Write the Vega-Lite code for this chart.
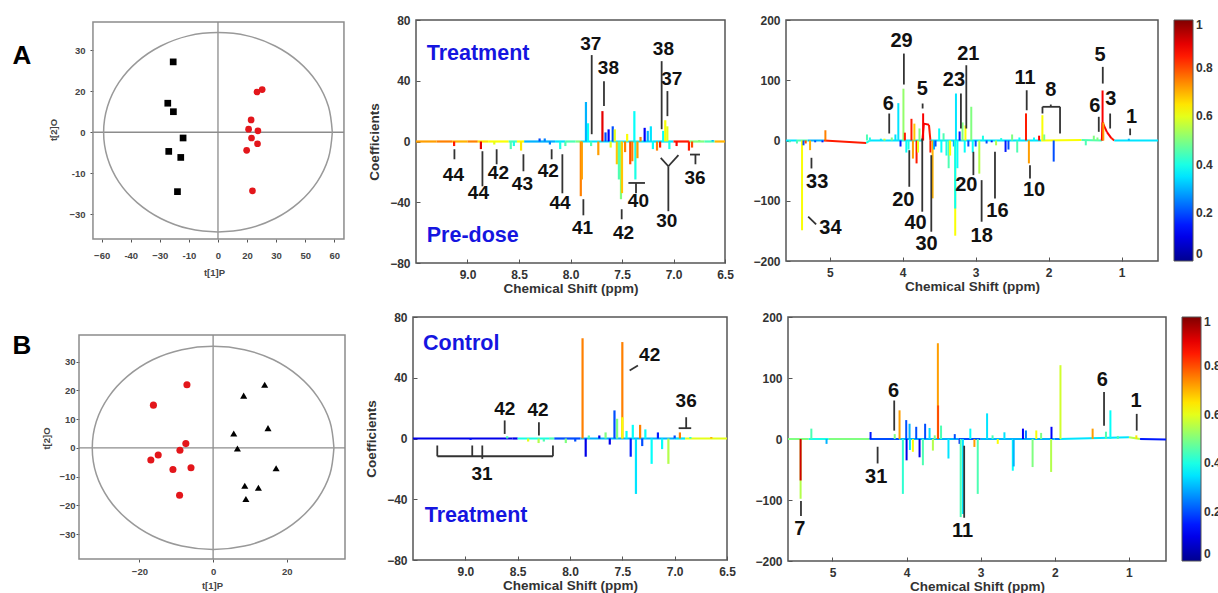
{
"$schema": "https://vega.github.io/schema/vega-lite/v6.json",
"padding": {"left": 12, "top": 13, "right": 2, "bottom": 2},
"background": "white",
"config": {
  "font": "Liberation Sans",
  "axis": {"labelFont": "Liberation Sans", "titleFont": "Liberation Sans", "labelFontWeight": "bold", "titleFontWeight": "bold", "labelColor": "#333", "titleColor": "#333", "grid": false, "tickColor": "#555", "labelFlush": false, "labelOverlap": false},
  "legend": {"labelFont": "Liberation Sans"},
  "text": {"font": "Liberation Sans"}
},
"datasets": {
  "scA": [{"x":-23.1,"y":25.7,"g":"pre"},{"x":-25.9,"y":10.6,"g":"pre"},{"x":-23,"y":7.5,"g":"pre"},{"x":-18,"y":-2.1,"g":"pre"},{"x":-25.4,"y":-7,"g":"pre"},{"x":-19.2,"y":-9.2,"g":"pre"},{"x":-20.9,"y":-21.7,"g":"pre"},
          {"x":20.1,"y":14.7,"g":"trt"},{"x":22.8,"y":15.6,"g":"trt"},{"x":17.1,"y":4.5,"g":"trt"},{"x":15.8,"y":1.1,"g":"trt"},{"x":20.6,"y":0.5,"g":"trt"},{"x":17.3,"y":-2.1,"g":"trt"},{"x":20.4,"y":-4.2,"g":"trt"},{"x":14.8,"y":-6.6,"g":"trt"},{"x":17.8,"y":-21.4,"g":"trt"}],
  "scB": [{"x":-7.1,"y":22,"g":"ctl"},{"x":-16.2,"y":14.9,"g":"ctl"},{"x":-7.4,"y":1.5,"g":"ctl"},{"x":-9,"y":-0.8,"g":"ctl"},{"x":-14.9,"y":-2.5,"g":"ctl"},{"x":-16.9,"y":-4.2,"g":"ctl"},{"x":-6,"y":-6.9,"g":"ctl"},{"x":-10.9,"y":-7.5,"g":"ctl"},{"x":-9.1,"y":-16.5,"g":"ctl"},
          {"x":14,"y":22,"g":"trt"},{"x":8.3,"y":18.2,"g":"trt"},{"x":14.9,"y":6.9,"g":"trt"},{"x":5.6,"y":5,"g":"trt"},{"x":6.6,"y":-0.2,"g":"trt"},{"x":17.1,"y":-7.1,"g":"trt"},{"x":8.6,"y":-13.2,"g":"trt"},{"x":12.3,"y":-13.9,"g":"trt"},{"x":8.9,"y":-17.8,"g":"trt"}],
  "elA": [{"i":0,"x":59,"y":0},{"i":1,"x":57.0,"y":9.4},{"i":2,"x":51.1,"y":18.2},{"i":3,"x":41.7,"y":25.7},{"i":4,"x":29.5,"y":31.5},{"i":5,"x":15.3,"y":35.2},{"i":6,"x":0,"y":36.4},{"i":7,"x":-15.3,"y":35.2},{"i":8,"x":-29.5,"y":31.5},{"i":9,"x":-41.7,"y":25.7},{"i":10,"x":-51.1,"y":18.2},{"i":11,"x":-57.0,"y":9.4},{"i":12,"x":-59,"y":0},{"i":13,"x":-57.0,"y":-9.4},{"i":14,"x":-51.1,"y":-18.2},{"i":15,"x":-41.7,"y":-25.7},{"i":16,"x":-29.5,"y":-31.5},{"i":17,"x":-15.3,"y":-35.2},{"i":18,"x":0,"y":-36.4},{"i":19,"x":15.3,"y":-35.2},{"i":20,"x":29.5,"y":-31.5},{"i":21,"x":41.7,"y":-25.7},{"i":22,"x":51.1,"y":-18.2},{"i":23,"x":57.0,"y":-9.4},{"i":24,"x":59,"y":0}],
  "elB": [{"i":0,"x":32.8,"y":0},{"i":1,"x":31.7,"y":9.2},{"i":2,"x":28.4,"y":17.7},{"i":3,"x":23.2,"y":25.0},{"i":4,"x":16.4,"y":30.7},{"i":5,"x":8.5,"y":34.2},{"i":6,"x":0,"y":35.4},{"i":7,"x":-8.5,"y":34.2},{"i":8,"x":-16.4,"y":30.7},{"i":9,"x":-23.2,"y":25.0},{"i":10,"x":-28.4,"y":17.7},{"i":11,"x":-31.7,"y":9.2},{"i":12,"x":-32.8,"y":0},{"i":13,"x":-31.7,"y":-9.2},{"i":14,"x":-28.4,"y":-17.7},{"i":15,"x":-23.2,"y":-25.0},{"i":16,"x":-16.4,"y":-30.7},{"i":17,"x":-8.5,"y":-34.2},{"i":18,"x":0,"y":-35.4},{"i":19,"x":8.5,"y":-34.2},{"i":20,"x":16.4,"y":-30.7},{"i":21,"x":23.2,"y":-25.0},{"i":22,"x":28.4,"y":-17.7},{"i":23,"x":31.7,"y":-9.2},{"i":24,"x":32.8,"y":0}],
  "amBase": [{"p":9.5,"v":0,"c":0.72},{"p":9.3,"v":0,"c":0.75},{"p":9.15,"v":0,"c":0.7},{"p":9.0,"v":0,"c":0.75},{"p":8.9,"v":0,"c":0.65},{"p":8.8,"v":0,"c":0.62},{"p":8.6,"v":0,"c":0.45},{"p":8.52,"v":0,"c":0.62},{"p":8.45,"v":0,"c":0.3},{"p":8.15,"v":0,"c":0.35},{"p":8.05,"v":0,"c":0.45},{"p":7.95,"v":0,"c":0.5},{"p":7.9,"v":0,"c":0.35},{"p":7.2,"v":0,"c":0.35},{"p":7.0,"v":0,"c":0.85},{"p":6.85,"v":0,"c":0.5},{"p":6.7,"v":0,"c":0.45},{"p":6.6,"v":0,"c":0.7},{"p":6.5,"v":0,"c":0.5}],
  "amPeaks": [{"p":9.13,"v":-3,"c":0.85},{"p":8.87,"v":-5,"c":0.9},{"p":8.74,"v":-2,"c":0.6},{"p":8.58,"v":-5,"c":0.45},{"p":8.55,"v":-3,"c":0.4},{"p":8.48,"v":-6,"c":0.65},{"p":8.3,"v":2,"c":0.2},{"p":8.25,"v":2,"c":0.25},{"p":8.2,"v":-2,"c":0.25},{"p":8.1,"v":-5,"c":0.4},{"p":8.05,"v":-3,"c":0.45},{"p":7.9,"v":-36,"c":0.75},{"p":7.89,"v":-25,"c":0.72},{"p":7.85,"v":26,"c":0.3},{"p":7.83,"v":12,"c":0.38},{"p":7.8,"v":-3,"c":0.45},{"p":7.73,"v":-9,"c":0.72},{"p":7.69,"v":20,"c":0.9},{"p":7.66,"v":6,"c":0.2},{"p":7.63,"v":8,"c":0.12},{"p":7.61,"v":-4,"c":0.6},{"p":7.59,"v":10,"c":0.2},{"p":7.57,"v":8,"c":0.6},{"p":7.55,"v":-15,"c":0.68},{"p":7.53,"v":-25,"c":0.45},{"p":7.51,"v":-38,"c":0.5},{"p":7.5,"v":-34,"c":0.68},{"p":7.47,"v":-7,"c":0.75},{"p":7.45,"v":5,"c":0.62},{"p":7.42,"v":-15,"c":0.8},{"p":7.4,"v":-13,"c":0.75},{"p":7.38,"v":20,"c":0.38},{"p":7.37,"v":-25,"c":0.4},{"p":7.35,"v":-11,"c":0.72},{"p":7.32,"v":3,"c":0.75},{"p":7.28,"v":9,"c":0.12},{"p":7.25,"v":7,"c":0.3},{"p":7.22,"v":10,"c":0.35},{"p":7.2,"v":-5,"c":0.38},{"p":7.16,"v":-6,"c":0.75},{"p":7.13,"v":-4,"c":0.85},{"p":7.1,"v":7,"c":0.38},{"p":7.08,"v":14,"c":0.62},{"p":7.06,"v":10,"c":0.6},{"p":7.04,"v":-5,"c":0.4},{"p":6.97,"v":-3,"c":0.88},{"p":6.85,"v":-6,"c":0.85},{"p":6.82,"v":-4,"c":0.8},{"p":6.75,"v":1,"c":0.5},{"p":6.62,"v":1,"c":0.3}],
  "amL": [{"p":9.127,"v":-5.1,"p2":9.127,"v2":-11.7},{"p":8.855,"v":-6.4,"p2":8.855,"v2":-29.5},{"p":8.717,"v":-5.1,"p2":8.717,"v2":-15},{"p":8.457,"v":-8.4,"p2":8.457,"v2":-19.6},{"p":8.183,"v":-5.1,"p2":8.183,"v2":-11.7},{"p":8.079,"v":-8.4,"p2":8.079,"v2":-34.1},{"p":7.875,"v":-38,"p2":7.875,"v2":-48.6},{"p":7.794,"v":56.9,"p2":7.794,"v2":4.8},{"p":7.675,"v":39.7,"p2":7.675,"v2":23.3},{"p":7.503,"v":-44.6,"p2":7.503,"v2":-51.2},{"p":7.438,"v":-27.3,"p2":7.277,"v2":-27.3},{"p":7.364,"v":-27.3,"p2":7.364,"v2":-34.1},{"p":7.115,"v":52.9,"p2":7.115,"v2":8.1},{"p":7.059,"v":33.2,"p2":7.059,"v2":16.7},{"p":7.124,"v":-10.8,"p2":7.05,"v2":-16.3},{"p":6.952,"v":-9,"p2":7.05,"v2":-16.3},{"p":7.05,"v":-16.3,"p2":7.05,"v2":-45.9},{"p":6.84,"v":-8.6,"p2":6.743,"v2":-8.6},{"p":6.787,"v":-8.6,"p2":6.787,"v2":-15}],
  "amT": [{"p":9.137,"v":-21.8,"t":"44"},{"p":8.894,"v":-33.9,"t":"44"},{"p":8.7,"v":-20.7,"t":"42"},{"p":8.467,"v":-28.3,"t":"43"},{"p":8.215,"v":-19.6,"t":"42"},{"p":8.102,"v":-40.5,"t":"44"},{"p":7.884,"v":-57,"t":"41"},{"p":7.804,"v":63.9,"t":"37"},{"p":7.632,"v":48.5,"t":"38"},{"p":7.486,"v":-60.3,"t":"42"},{"p":7.341,"v":-39.4,"t":"40"},{"p":7.098,"v":60.6,"t":"38"},{"p":7.017,"v":40.9,"t":"37"},{"p":7.066,"v":-52.5,"t":"30"},{"p":6.791,"v":-24,"t":"36"}],
  "amB": [{"p":9.396,"v":57.3,"t":"Treatment"},{"p":9.396,"v":-62.4,"t":"Pre-dose"}],
  "arBase": [{"p":5.6,"v":0,"c":0.35},{"p":5.45,"v":0,"c":0.45},{"p":5.3,"v":0,"c":0.3},{"p":5.08,"v":0,"c":0.85},{"p":4.5,"v":-4,"c":0.4},{"p":4.45,"v":0,"c":0.35},{"p":3.73,"v":0,"c":0.88},{"p":3.71,"v":28,"c":0.88},{"p":3.64,"v":26,"c":0.85},{"p":3.62,"v":0,"c":0.35},{"p":2.1,"v":0,"c":0.62},{"p":1.55,"v":1,"c":0.45},{"p":1.27,"v":0,"c":0.88},{"p":1.26,"v":30,"c":0.88},{"p":1.2,"v":14,"c":0.88},{"p":1.14,"v":4,"c":0.85},{"p":1.1,"v":0,"c":0.35},{"p":0.5,"v":0,"c":0.3}],
  "arPeaks": [{"p":5.55,"v":-3,"c":0.45},{"p":5.45,"v":-5,"c":0.45},{"p":5.38,"v":-149,"c":0.62},{"p":5.36,"v":-8,"c":0.2},{"p":5.33,"v":-5,"c":0.8},{"p":5.27,"v":-16,"c":0.7},{"p":5.2,"v":-3,"c":0.2},{"p":5.1,"v":-3,"c":0.15},{"p":5.06,"v":17,"c":0.75},{"p":4.49,"v":10,"c":0.45},{"p":4.45,"v":5,"c":0.4},{"p":4.3,"v":3,"c":0.35},{"p":4.25,"v":3,"c":0.6},{"p":4.15,"v":5,"c":0.5},{"p":4.1,"v":10,"c":0.35},{"p":4.06,"v":62,"c":0.35},{"p":4.03,"v":-10,"c":0.15},{"p":3.99,"v":86,"c":0.52},{"p":3.97,"v":13,"c":0.85},{"p":3.95,"v":-20,"c":0.38},{"p":3.92,"v":-15,"c":0.4},{"p":3.88,"v":36,"c":0.85},{"p":3.86,"v":-30,"c":0.72},{"p":3.84,"v":28,"c":0.68},{"p":3.81,"v":-38,"c":0.85},{"p":3.79,"v":-20,"c":0.6},{"p":3.77,"v":20,"c":0.5},{"p":3.72,"v":45,"c":0.88},{"p":3.62,"v":-20,"c":0.85},{"p":3.59,"v":-96,"c":0.7},{"p":3.57,"v":-15,"c":0.3},{"p":3.55,"v":-10,"c":0.2},{"p":3.5,"v":20,"c":0.38},{"p":3.47,"v":-20,"c":0.38},{"p":3.44,"v":12,"c":0.45},{"p":3.4,"v":-25,"c":0.4},{"p":3.37,"v":-46,"c":0.45},{"p":3.35,"v":-25,"c":0.62},{"p":3.3,"v":-10,"c":0.3},{"p":3.28,"v":-158,"c":0.62},{"p":3.28,"v":-113,"c":0.38},{"p":3.27,"v":78,"c":0.35},{"p":3.25,"v":-46,"c":0.38},{"p":3.22,"v":15,"c":0.15},{"p":3.18,"v":30,"c":0.5},{"p":3.15,"v":-20,"c":0.38},{"p":3.14,"v":25,"c":0.62},{"p":3.1,"v":-10,"c":0.2},{"p":3.06,"v":56,"c":0.5},{"p":3.04,"v":-20,"c":0.38},{"p":3.0,"v":-10,"c":0.2},{"p":2.95,"v":-55,"c":0.55},{"p":2.9,"v":8,"c":0.4},{"p":2.85,"v":-5,"c":0.2},{"p":2.78,"v":-3,"c":0.15},{"p":2.72,"v":-8,"c":0.55},{"p":2.65,"v":4,"c":0.4},{"p":2.59,"v":-19,"c":0.15},{"p":2.55,"v":-15,"c":0.2},{"p":2.5,"v":10,"c":0.5},{"p":2.43,"v":-20,"c":0.45},{"p":2.4,"v":5,"c":0.38},{"p":2.31,"v":45,"c":0.85},{"p":2.27,"v":-38,"c":0.72},{"p":2.2,"v":5,"c":0.38},{"p":2.13,"v":8,"c":0.88},{"p":2.085,"v":42,"c":0.62},{"p":2.06,"v":10,"c":0.5},{"p":1.93,"v":-35,"c":0.2},{"p":1.49,"v":-8,"c":0.45},{"p":1.38,"v":8,"c":0.5},{"p":1.33,"v":5,"c":0.5},{"p":1.26,"v":83,"c":0.88},{"p":1.25,"v":30,"c":0.72},{"p":0.9,"v":3,"c":0.3}],
  "arL": [{"p":5.251,"v":-28.7,"p2":5.251,"v2":-46.4},{"p":5.296,"v":-126.5,"p2":5.187,"v2":-139.3},{"p":4.185,"v":44.8,"p2":4.185,"v2":11.6},{"p":3.984,"v":144.3,"p2":3.984,"v2":92.9},{"p":3.727,"v":61.4,"p2":3.727,"v2":53.1},{"p":3.91,"v":-16.1,"p2":3.91,"v2":-76.8},{"p":3.732,"v":3.3,"p2":3.732,"v2":-118.2},{"p":3.608,"v":-24.4,"p2":3.608,"v2":-151.4},{"p":3.202,"v":77.9,"p2":3.202,"v2":19.9},{"p":3.128,"v":124.9,"p2":3.128,"v2":19.9},{"p":3.031,"v":-18.7,"p2":3.031,"v2":-57.5},{"p":2.918,"v":-65.8,"p2":2.918,"v2":-134.8},{"p":2.735,"v":-18.7,"p2":2.735,"v2":-96.2},{"p":2.3,"v":83.4,"p2":2.3,"v2":50.2},{"p":2.255,"v":-41,"p2":2.255,"v2":-63},{"p":2.084,"v":55.9,"p2":1.843,"v2":55.9},{"p":2.084,"v":55.9,"p2":2.084,"v2":44.8},{"p":1.843,"v":55.9,"p2":1.843,"v2":11.6},{"p":1.97,"v":59.7,"p2":1.97,"v2":55.9},{"p":1.312,"v":39.3,"p2":1.312,"v2":14.4},{"p":1.257,"v":122.2,"p2":1.257,"v2":94.5},{"p":1.156,"v":44.8,"p2":1.156,"v2":19.9},{"p":0.882,"v":19.9,"p2":0.882,"v2":8.8}],
  "arT": [{"p":5.173,"v":-68.5,"t":"33"},{"p":4.99,"v":-144.8,"t":"34"},{"p":4.198,"v":61.4,"t":"6"},{"p":4.016,"v":164.7,"t":"29"},{"p":3.732,"v":85.1,"t":"5"},{"p":3.992,"v":-99,"t":"20"},{"p":3.824,"v":-137.6,"t":"40"},{"p":3.673,"v":-172,"t":"30"},{"p":3.298,"v":100,"t":"23"},{"p":3.1,"v":144.3,"t":"21"},{"p":3.128,"v":-74.1,"t":"20"},{"p":2.918,"v":-158,"t":"18"},{"p":2.702,"v":-116.6,"t":"16"},{"p":2.323,"v":104.5,"t":"11"},{"p":2.2,"v":-82.4,"t":"10"},{"p":1.97,"v":83.4,"t":"8"},{"p":1.366,"v":57.5,"t":"6"},{"p":1.294,"v":141.5,"t":"5"},{"p":1.147,"v":68.5,"t":"3"},{"p":0.863,"v":39.3,"t":"1"}],
  "bmBase": [{"p":9.5,"v":0,"c":0.1},{"p":8.55,"v":0,"c":0.1},{"p":8.5,"v":0,"c":0.4},{"p":8.2,"v":0,"c":0.45},{"p":8.15,"v":0,"c":0.2},{"p":7.9,"v":0,"c":0.3},{"p":7.0,"v":0,"c":0.35},{"p":6.9,"v":0,"c":0.6},{"p":6.5,"v":0,"c":0.45}],
  "bmPeaks": [{"p":8.95,"v":-1,"c":0.15},{"p":8.6,"v":1.5,"c":0.45},{"p":8.4,"v":-2,"c":0.6},{"p":8.3,"v":-3,"c":0.55},{"p":8.25,"v":-2,"c":0.45},{"p":8.04,"v":-3,"c":0.5},{"p":7.95,"v":-2,"c":0.2},{"p":7.88,"v":66,"c":0.75},{"p":7.85,"v":-12,"c":0.1},{"p":7.82,"v":2,"c":0.45},{"p":7.72,"v":2,"c":0.1},{"p":7.66,"v":4,"c":0.5},{"p":7.62,"v":-4,"c":0.1},{"p":7.575,"v":18.5,"c":0.2},{"p":7.55,"v":13,"c":0.5},{"p":7.5,"v":63.5,"c":0.75},{"p":7.5,"v":14,"c":0.62},{"p":7.46,"v":5,"c":0.38},{"p":7.42,"v":-12,"c":0.15},{"p":7.4,"v":9,"c":0.38},{"p":7.37,"v":-36.5,"c":0.35},{"p":7.33,"v":9,"c":0.75},{"p":7.31,"v":-5,"c":0.2},{"p":7.28,"v":6,"c":0.38},{"p":7.22,"v":-16.7,"c":0.38},{"p":7.16,"v":4,"c":0.15},{"p":7.12,"v":-7,"c":0.38},{"p":7.06,"v":-16.7,"c":0.55},{"p":7.0,"v":2,"c":0.2},{"p":6.95,"v":4,"c":0.75},{"p":6.85,"v":1,"c":0.4},{"p":6.65,"v":1,"c":0.7}],
  "bmL": [{"p":8.624,"v":11.9,"p2":8.624,"v2":3},{"p":8.297,"v":10.7,"p2":8.297,"v2":2},{"p":9.268,"v":-11.7,"p2":8.163,"v2":-11.7},{"p":9.268,"v":-11.7,"p2":9.268,"v2":-4.6},{"p":8.163,"v":-11.7,"p2":8.163,"v2":-4.6},{"p":8.934,"v":-4.6,"p2":8.934,"v2":-11.7},{"p":8.838,"v":-4.6,"p2":8.838,"v2":-13.4},{"p":7.43,"v":44.8,"p2":7.351,"v2":48.1},{"p":6.962,"v":6.8,"p2":6.842,"v2":6.8},{"p":6.89,"v":14,"p2":6.89,"v2":6.8}],
  "bmT": [{"p":8.624,"v":19.5,"t":"42"},{"p":8.306,"v":18.5,"t":"42"},{"p":8.841,"v":-23.3,"t":"31"},{"p":7.239,"v":54.7,"t":"42"},{"p":6.89,"v":25,"t":"36"}],
  "bmB": [{"p":9.404,"v":62.4,"t":"Control"},{"p":9.388,"v":-50.8,"t":"Treatment"}],
  "brBase": [{"p":5.6,"v":0,"c":0.5},{"p":5.32,"v":0,"c":0.4},{"p":5.05,"v":0,"c":0.5},{"p":4.5,"v":0,"c":0.2},{"p":4.1,"v":0,"c":0.3},{"p":3.3,"v":0,"c":0.2},{"p":3.0,"v":0,"c":0.3},{"p":2.0,"v":0,"c":0.25},{"p":1.93,"v":0,"c":0.35},{"p":1.0,"v":3,"c":0.55},{"p":0.85,"v":0,"c":0.15},{"p":0.5,"v":-1,"c":0.15}],
  "brPeaks": [{"p":5.43,"v":-98,"c":0.55},{"p":5.43,"v":-68,"c":0.92},{"p":5.285,"v":17,"c":0.45},{"p":5.08,"v":-8,"c":0.3},{"p":4.486,"v":11.5,"c":0.15},{"p":4.16,"v":8,"c":0.5},{"p":4.095,"v":47,"c":0.72},{"p":4.05,"v":-90,"c":0.42},{"p":4.005,"v":31,"c":0.2},{"p":4.0,"v":-35,"c":0.1},{"p":3.96,"v":25,"c":0.3},{"p":3.955,"v":-18,"c":0.35},{"p":3.915,"v":-21,"c":0.62},{"p":3.87,"v":20,"c":0.2},{"p":3.825,"v":-30,"c":0.1},{"p":3.78,"v":-43,"c":0.45},{"p":3.75,"v":25,"c":0.2},{"p":3.69,"v":18,"c":0.35},{"p":3.645,"v":-19,"c":0.55},{"p":3.62,"v":6,"c":0.5},{"p":3.578,"v":157,"c":0.72},{"p":3.575,"v":55,"c":0.8},{"p":3.535,"v":22,"c":0.45},{"p":3.435,"v":-32,"c":0.35},{"p":3.35,"v":8,"c":0.2},{"p":3.285,"v":-8,"c":0.15},{"p":3.27,"v":-128,"c":0.45},{"p":3.24,"v":-123,"c":0.35},{"p":3.14,"v":17,"c":0.38},{"p":3.085,"v":-13,"c":0.72},{"p":3.04,"v":-90,"c":0.45},{"p":2.914,"v":42,"c":0.35},{"p":2.84,"v":6,"c":0.45},{"p":2.77,"v":-8,"c":0.62},{"p":2.68,"v":11,"c":0.35},{"p":2.567,"v":-52,"c":0.38},{"p":2.555,"v":-45,"c":0.3},{"p":2.43,"v":17,"c":0.12},{"p":2.39,"v":14,"c":0.25},{"p":2.3,"v":-46,"c":0.5},{"p":2.25,"v":14,"c":0.62},{"p":2.185,"v":10,"c":0.5},{"p":2.05,"v":-54,"c":0.55},{"p":2.045,"v":20,"c":0.12},{"p":1.924,"v":121,"c":0.58},{"p":1.49,"v":17,"c":0.72},{"p":1.31,"v":12,"c":0.45},{"p":1.25,"v":47,"c":0.38},{"p":1.15,"v":5,"c":0.45},{"p":0.9,"v":6,"c":0.65}],
  "brL": [{"p":5.425,"v":-101.7,"p2":5.425,"v2":-126.4},{"p":4.391,"v":-12.7,"p2":4.391,"v2":-40.1},{"p":4.167,"v":63.1,"p2":4.167,"v2":13.7},{"p":3.223,"v":-11,"p2":3.223,"v2":-129.1},{"p":1.336,"v":77,"p2":1.336,"v2":21.9},{"p":0.895,"v":41.2,"p2":0.895,"v2":13.7}],
  "brT": [{"p":5.442,"v":-148.3,"t":"7"},{"p":4.41,"v":-63.1,"t":"31"},{"p":4.175,"v":78.6,"t":"6"},{"p":3.245,"v":-151.1,"t":"11"},{"p":1.358,"v":97.2,"t":"6"},{"p":0.905,"v":62.1,"t":"1"}]
},
"spacing": 14,
"resolve": {"scale": {"x": "independent", "y": "independent", "color": "independent", "shape": "independent"}, "legend": {"color": "independent", "shape": "independent"}},
"vconcat": [
{
 "spacing": 17,
 "resolve": {"scale": {"x": "independent", "y": "independent", "color": "independent", "shape": "independent"}, "legend": {"color": "independent", "shape": "independent"}},
 "hconcat": [
  {
   "width": 270, "height": 219,
   "view": {"stroke": null},
   "encoding": {
     "x": {"field": "x", "type": "quantitative", "scale": {"domain": [-71.7, 67.6], "nice": false, "zero": false},
           "axis": {"values": [-60,-45,-30,-15,0,15,30,45,60], "labelExpr": "datum.value == -45 ? '-40' : datum.value == -15 ? '-10' : datum.value == 15 ? '20' : datum.value == 45 ? '50' : datum.label", "title": "t[1]P", "domain": false, "tickSize": 3, "labelPadding": 8, "labelFontSize": 9.5, "titleFontSize": 9.5, "titlePadding": 8, "labelColor": "#444", "titleColor": "#444"}},
     "y": {"field": "y", "type": "quantitative", "scale": {"domain": [-39, 41.0], "nice": false, "zero": false},
           "axis": {"values": [30,15,0,-15,-30], "labelExpr": "datum.value == 15 ? '20' : datum.value == -15 ? '-10' : datum.label", "title": "t[2]O", "offset": -14, "domain": false, "tickSize": 3, "labelPadding": 5, "labelFontSize": 9.5, "titleFontSize": 9.5, "titlePadding": 10, "labelColor": "#444", "titleColor": "#444"}}
   },
   "layer": [
     {"data": {"values": [{"x": -64.5, "x2": 65, "y": -39, "y2": 40.3}]}, "mark": {"type": "rect", "filled": false, "stroke": "#8c8c8c", "strokeWidth": 1.5}, "encoding": {"x2": {"field": "x2"}, "y2": {"field": "y2"}}},
     {"data": {"values": [{"x": 0, "x2": 0, "y": -39, "y2": 40.3}, {"x": -64.5, "x2": 65, "y": 0, "y2": 0}]}, "mark": {"type": "rule", "color": "#8c8c8c", "strokeWidth": 1.3}, "encoding": {"x2": {"field": "x2"}, "y2": {"field": "y2"}}},
     {"data": {"name": "elA"}, "mark": {"type": "line", "color": "#999999", "strokeWidth": 1.5, "interpolate": "cardinal"}, "encoding": {"order": {"field": "i", "type": "quantitative"}}},
     {"data": {"name": "scA"}, "mark": {"type": "point", "filled": true, "size": 45, "opacity": 1},
      "encoding": {"shape": {"field": "g", "type": "nominal", "scale": {"domain": ["pre", "trt"], "range": ["square", "circle"]}, "legend": null},
                   "color": {"field": "g", "type": "nominal", "scale": {"domain": ["pre", "trt"], "range": ["#000000", "#e3161b"]}, "legend": null}}},
     {"data": {"values": [{"x": -71.7, "y": 27.8, "t": "A"}]}, "mark": {"type": "text", "dx": -57, "fontSize": 26, "fontWeight": "bold", "color": "#000000", "baseline": "middle", "align": "center"}, "encoding": {"text": {"field": "t"}}}
   ]
  },
  {
   "width": 309, "height": 243,
   "view": {"stroke": "#555", "strokeWidth": 1.5},
   "encoding": {
     "x": {"field": "p", "type": "quantitative", "scale": {"domain": [6.5, 9.5], "reverse": true, "nice": false, "zero": false},
           "axis": {"values": [9, 8.5, 8, 7.5, 7, 6.5], "title": "Chemical Shift (ppm)", "labelFontSize": 12, "titleFontSize": 13.5, "tickSize": -4, "labelPadding": 10, "titlePadding": 1, "domain": false}},
     "y": {"field": "v", "type": "quantitative", "scale": {"domain": [-80, 80], "nice": false, "zero": false},
           "axis": {"values": [80, 40, 0, -40, -80], "title": "Coefficients", "labelFontSize": 12, "titleFontSize": 13.5, "tickSize": -4, "labelPadding": 10, "titlePadding": 8, "domain": false}}
   },
   "layer": [
     {"data": {"name": "amBase"}, "transform": [{"window": [{"op": "lead", "field": "p", "as": "p2"}, {"op": "lead", "field": "v", "as": "v2"}], "sort": [{"field": "p", "order": "descending"}]}, {"filter": "datum.p2 != null"}],
      "mark": {"type": "rule", "strokeWidth": 2.2},
      "encoding": {"x2": {"field": "p2"}, "y2": {"field": "v2"}, "color": {"field": "c", "type": "quantitative", "scale": {"type": "linear", "domain": [0, 0.125, 0.375, 0.625, 0.875, 1], "range": ["#00008f", "#0000ff", "#00ffff", "#ffff00", "#ff0000", "#800000"], "interpolate": "rgb"}, "legend": null}}},
     {"data": {"name": "amPeaks"}, "mark": {"type": "rule", "strokeWidth": 2.2},
      "encoding": {"y2": {"datum": 0}, "color": {"field": "c", "type": "quantitative", "scale": {"type": "linear", "domain": [0, 0.125, 0.375, 0.625, 0.875, 1], "range": ["#00008f", "#0000ff", "#00ffff", "#ffff00", "#ff0000", "#800000"], "interpolate": "rgb"}, "legend": null}}},
     {"data": {"name": "amL"}, "mark": {"type": "rule", "color": "#333333", "strokeWidth": 1.8}, "encoding": {"x2": {"field": "p2"}, "y2": {"field": "v2"}}},
     {"data": {"name": "amT"}, "mark": {"type": "text", "fontSize": 19, "fontWeight": "bold", "color": "#111111", "baseline": "middle", "align": "center"}, "encoding": {"text": {"field": "t"}}},
     {"data": {"name": "amB"}, "mark": {"type": "text", "fontSize": 21.5, "fontWeight": "bold", "color": "#1515e0", "baseline": "middle", "align": "left"}, "encoding": {"text": {"field": "t"}}}
   ]
  },
  {
   "width": 372, "height": 241,
   "view": {"stroke": "#555", "strokeWidth": 1.5},
   "encoding": {
     "x": {"field": "p", "type": "quantitative", "scale": {"domain": [0.5, 5.6], "reverse": true, "nice": false, "zero": false},
           "axis": {"values": [5, 4, 3, 2, 1], "title": "Chemical Shift (ppm)", "labelFontSize": 12, "titleFontSize": 13.5, "tickSize": -4, "labelPadding": 10, "titlePadding": 1, "domain": false}},
     "y": {"field": "v", "type": "quantitative", "scale": {"domain": [-200, 200], "nice": false, "zero": false},
           "axis": {"values": [200, 100, 0, -100, -200], "title": null, "labelFontSize": 12, "tickSize": -4, "labelPadding": 10, "domain": false}}
   },
   "layer": [
     {"data": {"name": "arBase"}, "transform": [{"window": [{"op": "lead", "field": "p", "as": "p2"}, {"op": "lead", "field": "v", "as": "v2"}], "sort": [{"field": "p", "order": "descending"}]}, {"filter": "datum.p2 != null"}],
      "mark": {"type": "rule", "strokeWidth": 2},
      "encoding": {"x2": {"field": "p2"}, "y2": {"field": "v2"}, "color": {"field": "c", "type": "quantitative", "scale": {"type": "linear", "domain": [0, 0.125, 0.375, 0.625, 0.875, 1], "range": ["#00008f", "#0000ff", "#00ffff", "#ffff00", "#ff0000", "#800000"], "interpolate": "rgb"},
        "legend": {"title": null, "orient": "right", "direction": "vertical", "offset": 16, "gradientLength": 241, "gradientThickness": 19, "values": [0, 0.2, 0.4, 0.6, 0.8, 1], "format": "~g", "labelFontSize": 12, "labelFontWeight": "bold", "labelColor": "#333", "gradientStrokeColor": "#555", "gradientStrokeWidth": 1, "padding": 0, "labelOffset": 3}}}},
     {"data": {"name": "arPeaks"}, "mark": {"type": "rule", "strokeWidth": 2},
      "encoding": {"y2": {"datum": 0}, "color": {"field": "c", "type": "quantitative", "scale": {"type": "linear", "domain": [0, 0.125, 0.375, 0.625, 0.875, 1], "range": ["#00008f", "#0000ff", "#00ffff", "#ffff00", "#ff0000", "#800000"], "interpolate": "rgb"},
        "legend": {"title": null, "orient": "right", "direction": "vertical", "offset": 16, "gradientLength": 241, "gradientThickness": 19, "values": [0, 0.2, 0.4, 0.6, 0.8, 1], "format": "~g", "labelFontSize": 12, "labelFontWeight": "bold", "labelColor": "#333", "gradientStrokeColor": "#555", "gradientStrokeWidth": 1, "padding": 0, "labelOffset": 3}}}},
     {"data": {"name": "arL"}, "mark": {"type": "rule", "color": "#333333", "strokeWidth": 1.8}, "encoding": {"x2": {"field": "p2"}, "y2": {"field": "v2"}}},
     {"data": {"name": "arT"}, "mark": {"type": "text", "fontSize": 20, "fontWeight": "bold", "color": "#111111", "baseline": "middle", "align": "center"}, "encoding": {"text": {"field": "t"}}}
   ]
  }
 ]
},
{
 "spacing": 17,
 "resolve": {"scale": {"x": "independent", "y": "independent", "color": "independent", "shape": "independent"}, "legend": {"color": "independent", "shape": "independent"}},
 "hconcat": [
  {
   "width": 266, "height": 242,
   "view": {"stroke": null},
   "encoding": {
     "x": {"field": "x", "type": "quantitative", "scale": {"domain": [-36.4, 35.8], "nice": false, "zero": false},
           "axis": {"values": [-20, 0, 20], "title": "t[1]P", "domain": false, "tickSize": 3, "labelPadding": 4, "labelFontSize": 9.5, "titleFontSize": 9.5, "titlePadding": 5, "labelColor": "#444", "titleColor": "#444"}},
     "y": {"field": "y", "type": "quantitative", "scale": {"domain": [-38.7, 45.6], "nice": false, "zero": false},
           "axis": {"values": [30, 20, 10, 0, -10, -20, -30], "title": "t[2]O", "domain": false, "tickSize": 3, "labelPadding": 1, "labelFontSize": 9.5, "titleFontSize": 9.5, "titlePadding": 7, "labelColor": "#444", "titleColor": "#444"}}
   },
   "layer": [
     {"data": {"values": [{"x": -36.4, "x2": 35.8, "y": -38.7, "y2": 39.3}]}, "mark": {"type": "rect", "filled": false, "stroke": "#8c8c8c", "strokeWidth": 1.5}, "encoding": {"x2": {"field": "x2"}, "y2": {"field": "y2"}}},
     {"data": {"values": [{"x": 0, "x2": 0, "y": -38.7, "y2": 39.3}, {"x": -36.4, "x2": 35.8, "y": 0, "y2": 0}]}, "mark": {"type": "rule", "color": "#8c8c8c", "strokeWidth": 1.3}, "encoding": {"x2": {"field": "x2"}, "y2": {"field": "y2"}}},
     {"data": {"name": "elB"}, "mark": {"type": "line", "color": "#999999", "strokeWidth": 1.5, "interpolate": "cardinal"}, "encoding": {"order": {"field": "i", "type": "quantitative"}}},
     {"data": {"name": "scB"}, "mark": {"type": "point", "filled": true, "size": 50, "opacity": 1},
      "encoding": {"shape": {"field": "g", "type": "nominal", "scale": {"domain": ["ctl", "trt"], "range": ["circle", "triangle-up"]}, "legend": null},
                   "color": {"field": "g", "type": "nominal", "scale": {"domain": ["ctl", "trt"], "range": ["#e3161b", "#000000"]}, "legend": null}}},
     {"data": {"values": [{"x": -36.4, "y": 35.5, "t": "B"}]}, "mark": {"type": "text", "dx": -57, "fontSize": 26, "fontWeight": "bold", "color": "#000000", "baseline": "middle", "align": "center"}, "encoding": {"text": {"field": "t"}}}
   ]
  },
  {
   "width": 314, "height": 243,
   "view": {"stroke": "#555", "strokeWidth": 1.5},
   "encoding": {
     "x": {"field": "p", "type": "quantitative", "scale": {"domain": [6.5, 9.5], "reverse": true, "nice": false, "zero": false},
           "axis": {"values": [9, 8.5, 8, 7.5, 7, 6.5], "title": "Chemical Shift (ppm)", "labelFontSize": 12, "titleFontSize": 13.5, "tickSize": -4, "labelPadding": 10, "titlePadding": 1, "domain": false}},
     "y": {"field": "v", "type": "quantitative", "scale": {"domain": [-80, 80], "nice": false, "zero": false},
           "axis": {"values": [80, 40, 0, -40, -80], "title": "Coefficients", "labelFontSize": 12, "titleFontSize": 13.5, "tickSize": -4, "labelPadding": 10, "titlePadding": 8, "domain": false}}
   },
   "layer": [
     {"data": {"name": "bmBase"}, "transform": [{"window": [{"op": "lead", "field": "p", "as": "p2"}, {"op": "lead", "field": "v", "as": "v2"}], "sort": [{"field": "p", "order": "descending"}]}, {"filter": "datum.p2 != null"}],
      "mark": {"type": "rule", "strokeWidth": 2.2},
      "encoding": {"x2": {"field": "p2"}, "y2": {"field": "v2"}, "color": {"field": "c", "type": "quantitative", "scale": {"type": "linear", "domain": [0, 0.125, 0.375, 0.625, 0.875, 1], "range": ["#00008f", "#0000ff", "#00ffff", "#ffff00", "#ff0000", "#800000"], "interpolate": "rgb"}, "legend": null}}},
     {"data": {"name": "bmPeaks"}, "mark": {"type": "rule", "strokeWidth": 2.2},
      "encoding": {"y2": {"datum": 0}, "color": {"field": "c", "type": "quantitative", "scale": {"type": "linear", "domain": [0, 0.125, 0.375, 0.625, 0.875, 1], "range": ["#00008f", "#0000ff", "#00ffff", "#ffff00", "#ff0000", "#800000"], "interpolate": "rgb"}, "legend": null}}},
     {"data": {"name": "bmL"}, "mark": {"type": "rule", "color": "#333333", "strokeWidth": 1.8}, "encoding": {"x2": {"field": "p2"}, "y2": {"field": "v2"}}},
     {"data": {"name": "bmT"}, "mark": {"type": "text", "fontSize": 19, "fontWeight": "bold", "color": "#111111", "baseline": "middle", "align": "center"}, "encoding": {"text": {"field": "t"}}},
     {"data": {"name": "bmB"}, "mark": {"type": "text", "fontSize": 21.5, "fontWeight": "bold", "color": "#1515e0", "baseline": "middle", "align": "left"}, "encoding": {"text": {"field": "t"}}}
   ]
  },
  {
   "width": 378, "height": 244,
   "view": {"stroke": "#555", "strokeWidth": 1.5},
   "encoding": {
     "x": {"field": "p", "type": "quantitative", "scale": {"domain": [0.5, 5.6], "reverse": true, "nice": false, "zero": false},
           "axis": {"values": [5, 4, 3, 2, 1], "title": "Chemical Shift (ppm)", "labelFontSize": 12, "titleFontSize": 13.5, "tickSize": -4, "labelPadding": 10, "titlePadding": 1, "domain": false}},
     "y": {"field": "v", "type": "quantitative", "scale": {"domain": [-200, 200], "nice": false, "zero": false},
           "axis": {"values": [200, 100, 0, -100, -200], "title": null, "labelFontSize": 12, "tickSize": -4, "labelPadding": 10, "domain": false}}
   },
   "layer": [
     {"data": {"name": "brBase"}, "transform": [{"window": [{"op": "lead", "field": "p", "as": "p2"}, {"op": "lead", "field": "v", "as": "v2"}], "sort": [{"field": "p", "order": "descending"}]}, {"filter": "datum.p2 != null"}],
      "mark": {"type": "rule", "strokeWidth": 2},
      "encoding": {"x2": {"field": "p2"}, "y2": {"field": "v2"}, "color": {"field": "c", "type": "quantitative", "scale": {"type": "linear", "domain": [0, 0.125, 0.375, 0.625, 0.875, 1], "range": ["#00008f", "#0000ff", "#00ffff", "#ffff00", "#ff0000", "#800000"], "interpolate": "rgb"},
        "legend": {"title": null, "orient": "right", "direction": "vertical", "offset": 16, "gradientLength": 244, "gradientThickness": 19, "values": [0, 0.2, 0.4, 0.6, 0.8, 1], "format": "~g", "labelFontSize": 12, "labelFontWeight": "bold", "labelColor": "#333", "gradientStrokeColor": "#555", "gradientStrokeWidth": 1, "padding": 0, "labelOffset": 3}}}},
     {"data": {"name": "brPeaks"}, "mark": {"type": "rule", "strokeWidth": 2},
      "encoding": {"y2": {"datum": 0}, "color": {"field": "c", "type": "quantitative", "scale": {"type": "linear", "domain": [0, 0.125, 0.375, 0.625, 0.875, 1], "range": ["#00008f", "#0000ff", "#00ffff", "#ffff00", "#ff0000", "#800000"], "interpolate": "rgb"},
        "legend": {"title": null, "orient": "right", "direction": "vertical", "offset": 16, "gradientLength": 244, "gradientThickness": 19, "values": [0, 0.2, 0.4, 0.6, 0.8, 1], "format": "~g", "labelFontSize": 12, "labelFontWeight": "bold", "labelColor": "#333", "gradientStrokeColor": "#555", "gradientStrokeWidth": 1, "padding": 0, "labelOffset": 3}}}},
     {"data": {"name": "brL"}, "mark": {"type": "rule", "color": "#333333", "strokeWidth": 1.8}, "encoding": {"x2": {"field": "p2"}, "y2": {"field": "v2"}}},
     {"data": {"name": "brT"}, "mark": {"type": "text", "fontSize": 20, "fontWeight": "bold", "color": "#111111", "baseline": "middle", "align": "center"}, "encoding": {"text": {"field": "t"}}}
   ]
  }
 ]
}
]
}
